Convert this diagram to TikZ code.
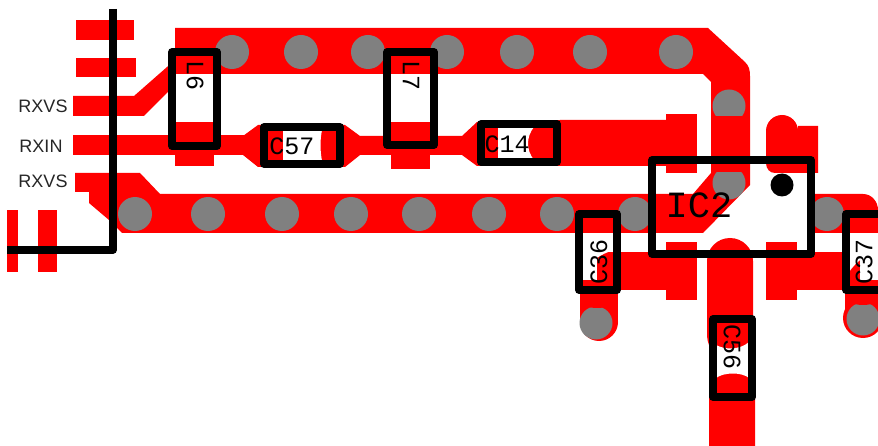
\documentclass[tikz,border=0pt]{standalone}
\usepackage{fontspec}
\setmainfont{Liberation Sans}
\newfontfamily\silkfont{Liberation Mono}
\definecolor{copper}{RGB}{255,0,0}
\definecolor{viagray}{RGB}{128,128,128}
\tikzset{
  cu/.style={fill=copper,draw=none},
  viahole/.style={fill=viagray,draw=none},
  gapwhite/.style={fill=white,draw=none},
  outline/.style={draw=black,line width=7.5pt,line join=round,line cap=round,fill=none},
  pinlabel/.style={font=\fontsize{18}{18}\selectfont,text=black!85,inner sep=0pt},
  silk/.style={font=\silkfont\fontsize{25}{25}\selectfont,text=black,inner sep=0pt},
}
\begin{document}
\begin{tikzpicture}[x=1pt,y=-1pt]
\useasboundingbox (0,0) rectangle (878,446);
\clip (0,0) rectangle (878,446);
\fill[white] (0,0) rectangle (878,446);
% left connector pads
\fill[cu] (76,20) rectangle (134,40);
\fill[cu] (76,58) rectangle (136,77);
\fill[cu] (73,135) rectangle (262,155);
\fill[cu] (7,210) rectangle (18,272);
\fill[cu] (38,210) rectangle (57,272);
\fill[cu] (73,96) -- (134,96) -- (175,60) -- (175,85) -- (144,116) -- (73,116) -- cycle;
% main ground ring
\fill[cu] (175,28) -- (708,28) -- (745,62) .. controls (749,66) and (750,70) .. (750,76)
  -- (750,185) -- (703,233) -- (122,233) -- (109,220) -- (89,203) -- (89,192) -- (75,192)
  -- (75,173) -- (140,173) -- (160,194) -- (693,194) -- (711,173) -- (711,82) -- (703,74) -- (175,74) -- cycle;
% L pads
\fill[cu] (175,122) rectangle (214,166);
\fill[cu] (391,122) rectangle (430,169);
% signal line
\fill[cu] (243,136) -- (258,125) -- (345,125) -- (360,136) -- (462,136) -- (477,122) -- (560,120)
  -- (666,120) -- (666,166) -- (477,166) -- (462,155) -- (360,155) -- (345,167) -- (258,167) -- (243,155) -- cycle;
\fill[cu] (666,114) rectangle (697,173);
% right of IC2
\fill[cu] (815,194) -- (863,194) .. controls (872,194) and (878,202) .. (878,210) -- (878,233) -- (815,233) -- cycle;
\fill[cu] (766,131) arc[start angle=180,end angle=360,radius=16] -- (798,126) -- (818,126) -- (818,173) -- (775,173)
  .. controls (770,173) and (766,169) .. (766,163) -- cycle;
% lower pads and traces
\fill[cu] (597,252) rectangle (666,290);
\fill[cu] (666,242) rectangle (697,300);
\fill[cu] (766,242) rectangle (797,300);
\fill[cu] (797,252) rectangle (860,290);
\fill[cu] (580,280) rectangle (618,322);
\fill[cu] (599,322) circle[radius=19];
\fill[cu] (845,280) rectangle (882,318);
\fill[cu] (863,318) circle[radius=20];
% centre trace
\fill[cu] (707,261) arc[start angle=180,end angle=360,radius=23] -- (753,330) -- (755,330) -- (755,446) -- (709,446) -- (709,345)
  .. controls (707,340) and (707,336) .. (707,330) -- cycle;
% vias
\foreach \vx in {232,301,368,447,517,590,676} \fill[viahole] (\vx,52) circle[radius=17];
\foreach \vx in {135,208,282,351,419,489,557,635,827} \fill[viahole] (\vx,214) circle[radius=17];
\begin{scope}
  \clip (700,80) rectangle (760,116);
  \fill[viahole] (729,106) circle[radius=16.5];
\end{scope}
\begin{scope}
  \clip (700,173) rectangle (760,210);
  \fill[viahole] (729,183) circle[radius=16.5];
\end{scope}
\fill[viahole] (596,323) circle[radius=16.5];
\fill[cu] (597,300) ellipse[x radius=17,y radius=8];
\fill[viahole] (863,319) circle[radius=16.5];
\fill[cu] (863,297) ellipse[x radius=17,y radius=8];
% white windows of the components
\fill[gapwhite] (175,85) -- (185,75) -- (214,75) -- (214,122) -- (175,122) -- cycle;
\fill[gapwhite] (391,74) rectangle (430,122);
\fill[gapwhite] (283,130) -- (322,130) .. controls (320,140) and (320,150) .. (322,161) -- (283,161) -- cycle;
\fill[gapwhite] (498,127) -- (534,127) .. controls (526,137) and (526,150) .. (534,160) -- (498,160) -- cycle;
\fill[gapwhite] (582,234) -- (614,234) -- (614,250) .. controls (600,254) and (590,262) .. (582,272) -- cycle;
\fill[gapwhite] (849,234) -- (878,234) -- (878,250) .. controls (866,254) and (856,262) .. (849,272) -- cycle;
\fill[gapwhite] (716,345) .. controls (725,350) and (740,350) .. (749,342) -- (749,378)
  .. controls (742,372) and (724,372) .. (716,378) -- cycle;
% component outlines
\draw[outline] (172,52) rectangle (217,146);
\draw[outline] (387,52) rectangle (434,145);
\draw[outline] (264,127) rectangle (340,164);
\draw[outline] (481,124) rectangle (557,162);
\draw[outline] (579,214) rectangle (617,290);
\draw[outline] (846,214) rectangle (890,290);
\draw[outline] (713,319) rectangle (752,397);
\draw[outline] (652,160) rectangle (811,254);
\draw[outline,line cap=butt] (113,9) -- (113,250) -- (7,250);
\fill[black] (782,185) circle[radius=11.5];
% texts
\node[pinlabel] (rxvsa) at (43,106) {RXVS};
\node[pinlabel] (rxin) at (41,146) {RXIN};
\node[pinlabel] (rxvsb) at (43,181) {RXVS};
\node[silk,font=\silkfont\fontsize{37}{37}\selectfont] (ic2) at (699,205) {IC2};
\node[silk] (c57) at (292,146) {C57};
\node[silk] (c14) at (507,144) {C14};
\node[silk,rotate=90] (c36) at (599,262) {C36};
\node[silk,rotate=90] (c37) at (864,262) {C37};
\node[silk,rotate=-90] (c56) at (732,347) {C56};
\node[silk,rotate=-90] (l6) at (195,76) {L6};
\node[silk,rotate=-90] (l7) at (411,76) {L7};
\end{tikzpicture}
\end{document}
